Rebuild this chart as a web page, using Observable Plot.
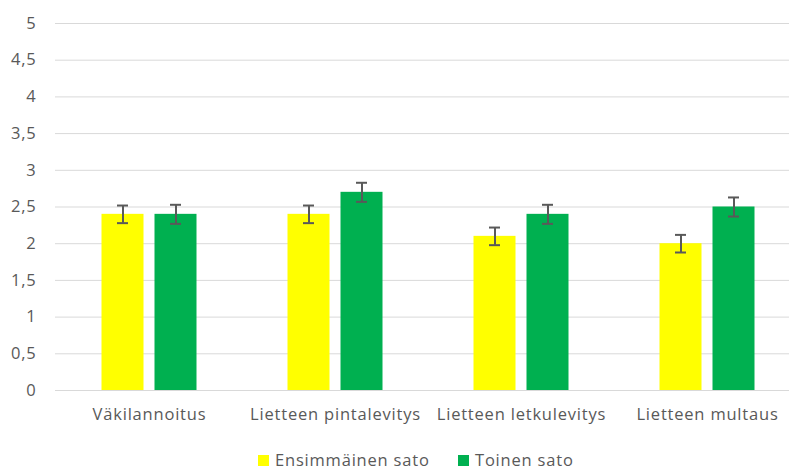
<!DOCTYPE html>
<html><head><meta charset="utf-8">
<script src="https://cdn.jsdelivr.net/npm/d3@7"></script>
<script src="https://cdn.jsdelivr.net/npm/@observablehq/plot@0.6"></script>
<style>
html,body{margin:0;padding:0;background:#fff;overflow:hidden;}
body{font-family:"Open Sans",Lato,sans-serif;color:#595959;}
#legend{position:relative;height:30px;width:789px;font-size:16.5px;letter-spacing:0.8px;}
.item{position:absolute;top:12px;display:flex;align-items:center;height:16px;line-height:16px;white-space:nowrap;}
.sw{width:11px;height:11px;margin-right:6px;}
</style>
</head><body>
<div id="chart"></div>
<div id="legend"></div>
<script>
const categories = ["Väkilannoitus", "Lietteen pintalevitys", "Lietteen letkulevitys", "Lietteen multaus"];
const seriesNames = ["Ensimmäinen sato", "Toinen sato"];
const ensimmainen = [2.4, 2.4, 2.1, 2.0];
const toinen = [2.4, 2.7, 2.4, 2.5];
const ensimmainenErr = [0.12, 0.12, 0.12, 0.12];
const toinenErr = [0.13, 0.13, 0.13, 0.13];
const yTicks = [0, 0.5, 1, 1.5, 2, 2.5, 3, 3.5, 4, 4.5, 5];
const colors = ["#ffff00", "#00b050"];

const seriesValues = [ensimmainen, toinen];
const seriesErrs = [ensimmainenErr, toinenErr];
const offsets = [-26.5, 26.5];
const errColor = "#595959";

const marks = [
  Plot.gridY(yTicks, {stroke: "#d9d9d9", strokeOpacity: 1, strokeWidth: 1}),
  Plot.axisY({ticks: yTicks, tickSize: 0, tickPadding: 19, fontSize: 16.5, tickFormat: d => String(d).replace(".", ","), color: "#595959"}),
  Plot.axisX({tickSize: 0, tickPadding: 18, fontSize: 16.5, color: "#595959"})
];
seriesNames.forEach((name, s) => {
  const rows = categories.map((c, i) => ({category: c, value: seriesValues[s][i], err: seriesErrs[s][i]}));
  marks.push(Plot.barY(rows, {x: "category", y: "value", fill: colors[s], dx: offsets[s]}));
  marks.push(Plot.ruleX(rows, {x: "category", y1: d => d.value - d.err, y2: d => d.value + d.err, dx: offsets[s], stroke: errColor, strokeWidth: 2}));
  marks.push(Plot.tickY(rows, {x: "category", y: d => d.value + d.err, dx: offsets[s], insetLeft: 15.5, insetRight: 15.5, stroke: errColor, strokeWidth: 2}));
  marks.push(Plot.tickY(rows, {x: "category", y: d => d.value - d.err, dx: offsets[s], insetLeft: 15.5, insetRight: 15.5, stroke: errColor, strokeWidth: 2}));
});

const chart = Plot.plot({
  width: 789,
  height: 440,
  marginLeft: 55,
  marginRight: -11,
  marginTop: 23,
  marginBottom: 50,
  style: {fontFamily: "'Open Sans', Lato, sans-serif", color: "#595959", background: "#fff", letterSpacing: "0.8px"},
  x: {domain: categories, paddingInner: 0.7745, paddingOuter: 0.387, label: null},
  y: {domain: [0, 5], label: null},
  marks
});
document.getElementById("chart").appendChild(chart);

const legend = document.getElementById("legend");
const lefts = [258, 458];
seriesNames.forEach((name, s) => {
  const item = document.createElement("div");
  item.className = "item";
  item.style.left = lefts[s] + "px";
  const sw = document.createElement("div");
  sw.className = "sw";
  sw.style.background = colors[s];
  item.appendChild(sw);
  item.appendChild(document.createTextNode(name));
  legend.appendChild(item);
});
</script>
</body></html>
